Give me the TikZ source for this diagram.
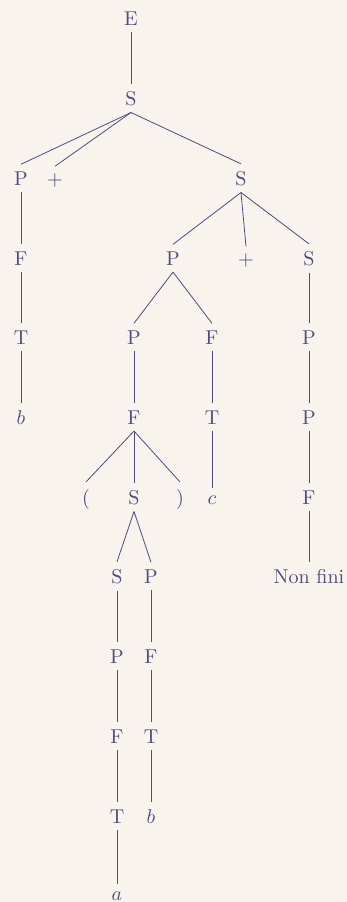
\documentclass[tikz,border=0pt]{standalone}
\usepackage{tikz}
\definecolor{paperCream}{HTML}{F8F3EC}
\definecolor{inkPlum}{HTML}{4E4D7C}

\begin{document}
\begin{tikzpicture}[
  x=0.5pt,y=-0.5pt,
  every node/.style={anchor=base,text=inkPlum},
  e/.style={line width=0.4pt,color=inkPlum},
]
\fill[paperCream] (0,0) rectangle (347,902);
\useasboundingbox (0,0) rectangle (347,902);

% Root
\node (E)  at (131,25)  {E};
\node (S)  at (131,105) {S};

\draw[e] (E.south) -- (S.north);

% Left branch: P + S
\node (P)    at (21,185)  {P};
\node (Pl)   at (55,185)  {$+$};
\node (S2)   at (241,185) {S};
\node (PF)   at (21,265)  {F};
\node (PFT)  at (21,344)  {T};
\node (PFTb) at (21,424)  {$b$};

\draw[e] (S.south) -- (P.north);
\draw[e] (S.south) -- (Pl.north);
\draw[e] (S.south) -- (S2.north);
\draw[e] (P.south) -- (PF.north);
\draw[e] (PF.south) -- (PFT.north);
\draw[e] (PFT.south) -- (PFTb.north);

% Right S: P + S
\node (S2P)   at (173,265) {P};
\node (S2pl)  at (246,265) {$+$};
\node (S2S)   at (309,265) {S};

\draw[e] (S2.south) -- (S2P.north);
\draw[e] (S2.south) -- (S2pl.north);
\draw[e] (S2.south) -- (S2S.north);

% P -> P F
\node (S2PP)   at (134,344) {P};
\node (S2PF)   at (212,344) {F};
\node (S2PPF)  at (134,424) {F};
\node (S2PFT)  at (212,424) {T};
\node (S2PFTc) at (212,504) {$c$};

\draw[e] (S2P.south) -- (S2PP.north);
\draw[e] (S2P.south) -- (S2PF.north);
\draw[e] (S2PP.south) -- (S2PPF.north);
\draw[e] (S2PF.south) -- (S2PFT.north);
\draw[e] (S2PFT.south) -- (S2PFTc.north);

% F -> ( S )
\node (Lp) at (86,504)  {(};
\node (In) at (134,504) {S};
\node (Rp) at (180,504) {)};

\draw[e] (S2PPF.south) -- (Lp.north);
\draw[e] (S2PPF.south) -- (In.north);
\draw[e] (S2PPF.south) -- (Rp.north);

% inner S -> S P
\node (InS)     at (117,583) {S};
\node (InSP)    at (117,663) {P};
\node (InSPF)   at (117,743) {F};
\node (InSPFT)  at (117,823) {T};
\node (InSPFTa) at (117,900) {$a$};
\node (InP)     at (151,583) {P};
\node (InPF)    at (151,663) {F};
\node (InPFT)   at (151,743) {T};
\node (InPFTb)  at (151,823) {$b$};

\draw[e] (In.south) -- (InS.north);
\draw[e] (In.south) -- (InP.north);
\draw[e] (InS.south) -- (InSP.north);
\draw[e] (InSP.south) -- (InSPF.north);
\draw[e] (InSPF.south) -- (InSPFT.north);
\draw[e] (InSPFT.south) -- (InSPFTa.north);
\draw[e] (InP.south) -- (InPF.north);
\draw[e] (InPF.south) -- (InPFT.north);
\draw[e] (InPFT.south) -- (InPFTb.north);

% right S -> P -> P -> F -> Non fini
\node (S2SP)   at (309,344) {P};
\node (S2SPP)  at (309,424) {P};
\node (S2SPPF) at (309,504) {F};
\node (NF)     at (309,583) {Non fini};

\draw[e] (S2S.south) -- (S2SP.north);
\draw[e] (S2SP.south) -- (S2SPP.north);
\draw[e] (S2SPP.south) -- (S2SPPF.north);
\draw[e] (S2SPPF.south) -- (NF.north);
\end{tikzpicture}
\end{document}
